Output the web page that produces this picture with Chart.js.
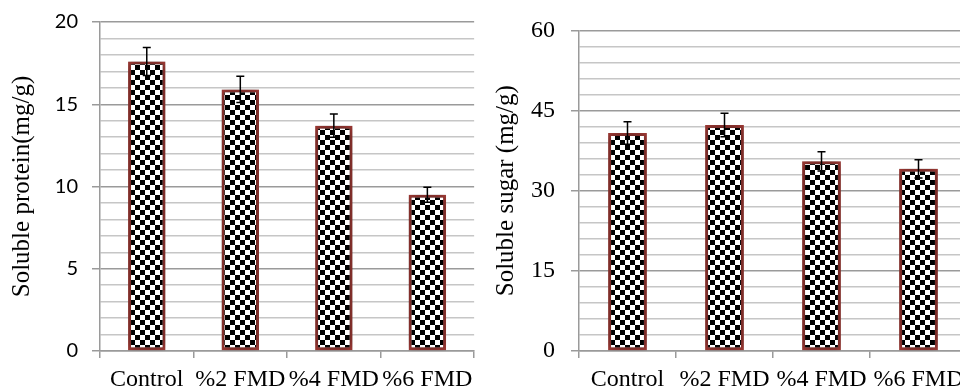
<!DOCTYPE html>
<html>
<head>
<meta charset="utf-8">
<script src="https://cdn.jsdelivr.net/npm/chart.js@4.4.0/dist/chart.umd.min.js"></script>
<style>
html, body { margin: 0; padding: 0; background: #fff; overflow: hidden; }
#wrap { position: relative; width: 960px; height: 390px; overflow: hidden; }
#left { position: absolute; left: 0; top: 0; width: 480px; height: 390px; }
#right { position: absolute; left: 480px; top: 0; width: 492px; height: 390px; }
</style>
</head>
<body>
<div id="wrap">
    <div id="left"><canvas id="protein-chart"></canvas></div>
    <div id="right"><canvas id="sugar-chart"></canvas></div>
</div>
<script>
// data
var categories = ['Control', '%2 FMD', '%4 FMD', '%6 FMD'];
var proteinValues = [17.6, 15.9, 13.7, 9.5];
var proteinErrors = [0.85, 0.8, 0.7, 0.45];
var sugarValues = [40.8, 42.3, 35.5, 34.1];
var sugarErrors = [2.1, 2.2, 1.8, 1.7];

var serif = 'Liberation Serif';
var majorGrid = '#9a9a9a';
var minorGrid = '#c6c6c6';
var barBorder = '#a33b36';

function checker(ctx) {
    var c = document.createElement('canvas');
    c.width = 10; c.height = 10;
    var x = c.getContext('2d');
    x.fillStyle = '#fff';
    x.fillRect(0, 0, 10, 10);
    x.fillStyle = '#000';
    x.fillRect(0, 0, 5, 5);
    x.fillRect(5, 5, 5, 5);
    return ctx.createPattern(c, 'repeat');
}

// soft glow behind the bars
var barShadow = {
    id: 'barShadow',
    beforeDatasetDraw: function(chart) {
        var ctx = chart.ctx;
        ctx.save();
        ctx.shadowColor = 'rgba(0,0,0,0.6)';
        ctx.shadowBlur = 10;
    },
    afterDatasetDraw: function(chart) {
        chart.ctx.restore();
    }
};

var errorBars = {
    id: 'errorBars',
    afterDatasetsDraw: function(chart, args, opts) {
        var ctx = chart.ctx;
        var y = chart.scales.y;
        var ds = chart.data.datasets[0];
        ctx.save();
        ctx.strokeStyle = '#000';
        ctx.lineWidth = 1.5;
        chart.getDatasetMeta(0).data.forEach(function(bar, i) {
            var top = y.getPixelForValue(ds.data[i] + opts.errors[i]);
            var bot = y.getPixelForValue(ds.data[i] - opts.errors[i]);
            ctx.beginPath();
            ctx.moveTo(bar.x, top); ctx.lineTo(bar.x, bot);
            ctx.moveTo(bar.x - 4, top); ctx.lineTo(bar.x + 4, top);
            ctx.moveTo(bar.x - 4, bot); ctx.lineTo(bar.x + 4, bot);
            ctx.stroke();
        });
        ctx.restore();
    }
};

function makeChart(id, values, errors, max, step, major, title, tickFont, tickPad, titlePad, yWidth) {
    var el = document.getElementById(id);
    return new Chart(el, {
        type: 'bar',
        data: {
            labels: categories,
            datasets: [{
                data: values,
                backgroundColor: checker(el.getContext('2d')),
                borderColor: barBorder,
                borderWidth: 3,
                borderSkipped: false,
                barPercentage: 0.4,
                categoryPercentage: 1
            }]
        },
        options: {
            maintainAspectRatio: false,
            animation: false,
            layout: { padding: { top: 0, right: 5, left: 0, bottom: 0 } },
            plugins: {
                legend: { display: false },
                tooltip: { enabled: false },
                errorBars: { errors: errors }
            },
            scales: {
                x: {
                    border: { display: true, color: majorGrid, width: 1.5 },
                    grid: { offset: true, drawOnChartArea: false, tickLength: 7, color: majorGrid, lineWidth: 1.5 },
                    ticks: { color: '#000', font: { family: serif, size: 24 }, padding: 7, maxRotation: 0, autoSkip: false },
                    afterFit: function(s) { s.height = 39; }
                },
                y: {
                    min: 0,
                    max: max,
                    border: { display: true, color: majorGrid, width: 1.5 },
                    grid: {
                        lineWidth: 1.5,
                        tickLength: 8,
                        color: function(c) { return c.tick.value % major === 0 ? majorGrid : minorGrid; },
                        tickColor: function(c) { return c.tick.value % major === 0 ? majorGrid : 'rgba(0,0,0,0)'; }
                    },
                    ticks: {
                        stepSize: step,
                        autoSkip: false,
                        padding: tickPad,
                        color: '#000',
                        font: tickFont,
                        callback: function(v) { return v % major === 0 ? v : ''; }
                    },
                    title: {
                        display: true, text: title, color: '#000',
                        font: { family: serif, size: 25 },
                        padding: { top: titlePad, bottom: 0 }
                    },
                    afterFit: function(s) { s.width = yWidth; }
                }
            }
        },
        plugins: [barShadow, errorBars]
    });
}

// tick font line height also sets the space above the top gridline
makeChart('protein-chart', proteinValues, proteinErrors, 20, 1, 5, 'Soluble protein(mg/g)',
    { family: 'Lato', size: 20, lineHeight: 0.8 }, 14, 7, 100);
makeChart('sugar-chart', sugarValues, sugarErrors, 60, 3, 15, 'Soluble sugar (mg/g)',
    { family: serif, size: 24, lineHeight: 1.2 }, 16, 11, 99);
</script>
</body>
</html>
